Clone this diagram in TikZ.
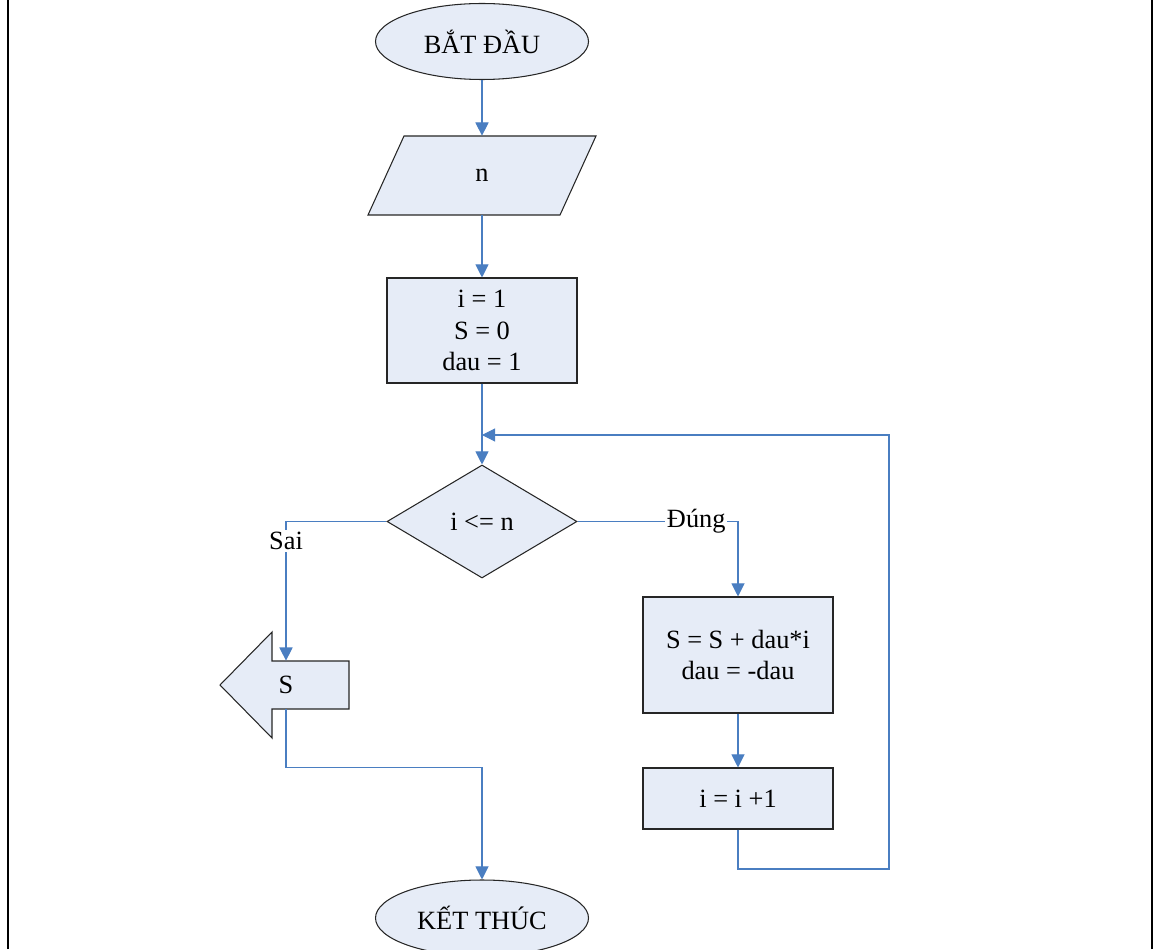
\documentclass[tikz,border=0pt]{standalone}
\usepackage{fontspec}
\setmainfont{Liberation Serif}
\usetikzlibrary{shapes.geometric,arrows.meta}

\definecolor{boxfill}{RGB}{230,236,247}
\definecolor{linkblue}{RGB}{74,126,193}

\begin{document}
\begin{tikzpicture}[
  font=\fontsize{15}{18}\selectfont,
  shapeline/.style={draw=black!85,line width=0.6pt,fill=boxfill},
  terminal/.style={shapeline,ellipse,minimum width=4.26cm,minimum height=1.52cm,inner sep=0pt},
  process/.style={shapeline,rectangle,minimum width=3.8cm,align=center},
  decision/.style={shapeline,diamond,minimum width=3.8cm,minimum height=2.26cm,inner sep=0pt},
  flow/.style={draw=linkblue,line width=0.6pt,-{Triangle[width=7.5pt,length=7.5pt]}},
  tag/.style={fill=white,inner sep=1pt}
]

\useasboundingbox (0,0) rectangle (23.18,18.98);

\draw [line width=1.6pt] (0.16,0) -- (0.16,18.98);
\draw [line width=1.6pt] (23.04,0) -- (23.04,18.98);

\node [terminal] (start) at (9.64,18.15) {BẮT ĐẦU};

\coordinate (inc) at (9.64,15.47);
\draw [shapeline,shift={(inc)}] (-1.56,0.79) -- (2.28,0.79) -- (1.56,-0.79) -- (-2.28,-0.79) -- cycle;
\node [minimum height=1.58cm,inner sep=0pt] (input) at (inc) {n};

\node [process,minimum height=2.1cm] (init) at (9.64,12.37) {i = 1\\S = 0\\dau = 1};
\node [decision] (cond) at (9.64,8.55) {i <= n};
\node [process,minimum height=2.32cm] (body) at (14.76,5.88) {S = S + dau*i\\dau = -dau};
\node [process,minimum height=1.22cm] (incr) at (14.76,3.01) {i = i +1};
\node [terminal] (end) at (9.64,0.62) {KẾT THÚC};

\coordinate (outc) at (5.72,5.28);
\draw [shapeline,shift={(outc)}] (-1.32,0) -- (-0.28,1.06) -- (-0.28,0.48) -- (1.26,0.48) -- (1.26,-0.48) -- (-0.28,-0.48) -- (-0.28,-1.06) -- cycle;
\node [minimum height=0.96cm,inner sep=0pt] (out) at (outc) {S};

\coordinate (back) at (9.64,10.28);
\coordinate (loopc) at (17.78,1.60);

\draw [flow] (start) -- (input);
\draw [flow] (input) -- (init);
\draw [flow] (init) -- (cond);
\draw [flow] (cond.west) -| node [tag,pos=0.57] {Sai} (out.north);
\draw [flow] (cond.east) -| node [tag,pos=0.37] {Đúng} (body.north);
\draw [flow] (body) -- (incr);
\draw [flow] (incr.south) |- (loopc) |- (back);
\draw [flow] (out.south) -- ++(0,-1.16) -| (end.north);

\end{tikzpicture}
\end{document}
